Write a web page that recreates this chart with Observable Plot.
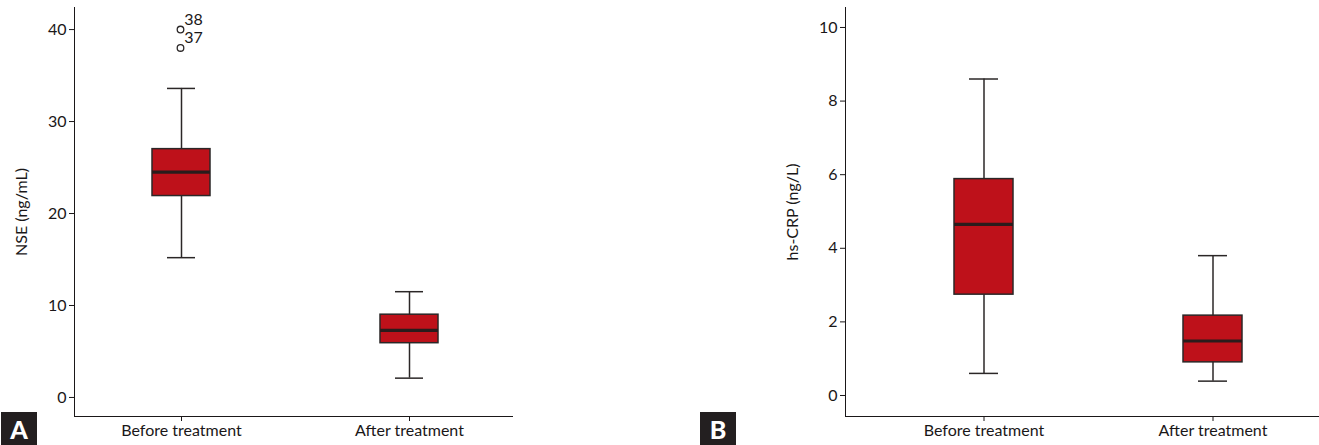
<!DOCTYPE html>
<html>
<head>
<meta charset="utf-8">
<script src="https://cdn.jsdelivr.net/npm/d3@7"></script>
<script src="https://cdn.jsdelivr.net/npm/@observablehq/plot@0.6"></script>
<style>
  html, body { margin: 0; padding: 0; background: #fff; }
  #wrap { position: relative; width: 1319px; height: 445px; overflow: hidden; font-family: Lato, "Noto Sans", sans-serif; }
  .panel { position: absolute; top: 0; }
  .tag { position: absolute; top: 412px; width: 36px; height: 33px; background: #231f20; color: #fff;
         font: 900 25px Lato, "Noto Sans", sans-serif; display: flex; align-items: center; justify-content: center; }
</style>
</head>
<body>
<div id="wrap">
  <div class="panel" id="pa" style="left:0px"></div>
  <div class="panel" id="pb" style="left:700px"></div>
  <div class="tag" style="left:1px">A</div>
  <div class="tag" style="left:700px">B</div>
</div>
<script>
// ---- data ----
const groups = ["Before treatment", "After treatment"];

// Panel A: NSE (ng/mL)
const nseMin    = [15.2, 2.1];
const nseQ1     = [21.9, 5.9];
const nseMedian = [24.5, 7.3];
const nseQ3     = [27.0, 9.0];
const nseMax    = [33.6, 11.5];
const nseOutlierGroup = ["Before treatment", "Before treatment"];
const nseOutlierValue = [40.0, 38.0];
const nseOutlierId    = ["38", "37"];
const nseTicks = [0, 10, 20, 30, 40];

// Panel B: hs-CRP (ng/L)
const crpMin    = [0.6, 0.39];
const crpQ1     = [2.74, 0.9];
const crpMedian = [4.65, 1.48];
const crpQ3     = [5.88, 2.17];
const crpMax    = [8.6, 3.8];
const crpTicks = [0, 2, 4, 6, 8, 10];

const RED = "#be111a";
const DARK = "#2b2727";
const FONT = "Lato, 'Noto Sans', sans-serif";

function table(mins, q1s, meds, q3s, maxs) {
  return groups.map((g, i) => ({group: g, min: mins[i], q1: q1s[i], median: meds[i], q3: q3s[i], max: maxs[i]}));
}

function boxPlot({data, outliers, width, marginLeft, marginRight, yDomain, yTicks, yLabel,
                  paddingInner, paddingOuter, align}) {
  const marks = [
    Plot.ruleX(data, {x: "group", y1: "min", y2: "max", stroke: DARK, strokeWidth: 1.5}),
    Plot.tickY(data, {x: "group", y: "min", stroke: DARK, strokeWidth: 1.5, insetLeft: 15, insetRight: 15}),
    Plot.tickY(data, {x: "group", y: "max", stroke: DARK, strokeWidth: 1.5, insetLeft: 15, insetRight: 15}),
    Plot.barY(data, {x: "group", y1: "q1", y2: "q3", fill: RED, stroke: DARK, strokeWidth: 1.5}),
    Plot.tickY(data, {x: "group", y: "median", stroke: "#2a1c1c", strokeWidth: 3.2})
  ];
  if (outliers) {
    marks.push(Plot.dot(outliers, {x: "group", y: "value", r: 3.3, fill: "white", stroke: DARK, strokeWidth: 1.3, dx: -1}));
    marks.push(Plot.text(outliers, {x: "group", y: "value", text: "id", dx: 12, dy: -10, fontSize: 16, fill: "#1a1718"}));
  }
  return Plot.plot({
    width, height: 445,
    marginTop: 7, marginBottom: 29, marginLeft, marginRight,
    style: {fontFamily: FONT, fontSize: "16px", color: "#1a1718", background: "white"},
    x: {type: "band", domain: groups, paddingInner, paddingOuter, align, label: null,
        tickSize: 5, tickPadding: 3, line: true},
    y: {domain: yDomain, ticks: yTicks, tickSize: 5, tickPadding: 3, label: yLabel,
        labelAnchor: "center", labelOffset: 59, labelArrow: "none", line: true},
    marks
  });
}

const nseData = table(nseMin, nseQ1, nseMedian, nseQ3, nseMax);
const nseOut = nseOutlierValue.map((v, i) => ({group: nseOutlierGroup[i], value: v, id: nseOutlierId[i]}));
const crpData = table(crpMin, crpQ1, crpMedian, crpQ3, crpMax);

document.getElementById("pa").append(boxPlot({
  data: nseData, outliers: nseOut, width: 540, marginLeft: 74, marginRight: 28,
  yDomain: [-2.07, 42.4], yTicks: nseTicks, yLabel: "NSE (ng/mL)",
  paddingInner: 0.746, paddingOuter: 0.3335, align: 0.513
}));

document.getElementById("pb").append(boxPlot({
  data: crpData, outliers: null, width: 619, marginLeft: 145, marginRight: 0,
  yDomain: [-0.571, 10.543], yTicks: crpTicks, yLabel: "hs-CRP (ng/L)",
  paddingInner: 0.743, paddingOuter: 0.402, align: 0.587
}));
</script>
</body>
</html>
